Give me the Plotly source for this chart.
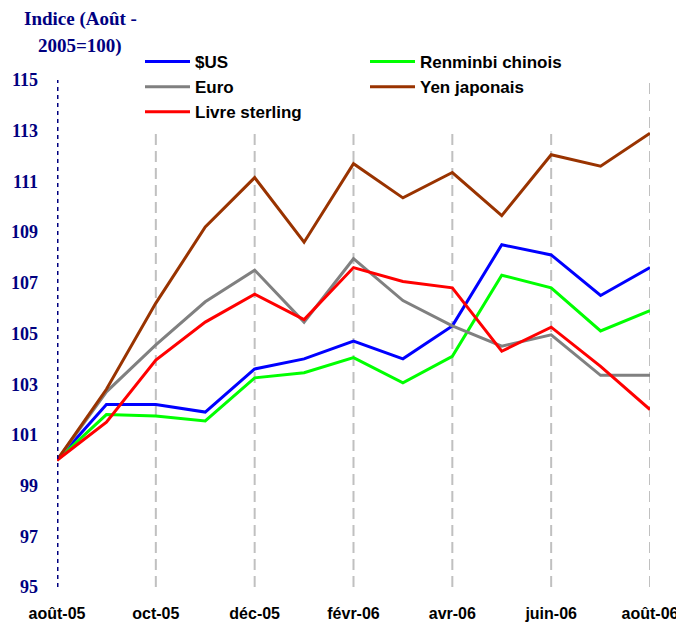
import plotly.graph_objects as go

months = ["août-05", "sept-05", "oct-05", "nov-05", "déc-05", "janv-06", "févr-06",
          "mars-06", "avr-06", "mai-06", "juin-06", "juil-06", "août-06"]
tick_months = months[::2]

usd = [100.0, 102.2, 102.2, 101.9, 103.6, 104.0, 104.7, 104.0, 105.3, 108.5, 108.1, 106.5, 107.6]
cny = [100.0, 101.8, 101.75, 101.55, 103.25, 103.45, 104.05, 103.05, 104.1, 107.3, 106.8, 105.1, 105.9]
eur = [100.0, 102.7, 104.55, 106.25, 107.5, 105.45, 107.95, 106.3, 105.3, 104.5, 104.95, 103.35, 103.35]
jpy = [100.0, 102.8, 106.2, 109.2, 111.15, 108.6, 111.7, 110.35, 111.35, 109.65, 112.05, 111.6, 112.9]
gbp = [100.0, 101.5, 103.95, 105.45, 106.55, 105.55, 107.6, 107.05, 106.8, 104.3, 105.25, 103.7, 102.0]

y_ticks = list(range(95, 116, 2))

series = [
    ("$US", usd, "#0000FF"),
    ("Renminbi chinois", cny, "#00FF00"),
    ("Euro", eur, "#808080"),
    ("Yen japonais", jpy, "#993300"),
    ("Livre sterling", gbp, "#FF0000"),
]

fig = go.Figure()
for name, vals, col in series:
    fig.add_trace(go.Scatter(x=months, y=vals, name=name, mode="lines",
                             line=dict(color=col, width=3)))

# dashed vertical grid lines at labelled months (except the first)
for m in tick_months[1:]:
    fig.add_shape(type="line", xref="x", yref="y", x0=m, x1=m, y0=95, y1=115,
                  line=dict(color="#C0C0C0", width=2, dash="11px,6px"), layer="below")
# dotted navy left axis
fig.add_shape(type="line", xref="x", yref="y", x0=months[0], x1=months[0], y0=95, y1=115,
              line=dict(color="#000080", width=3, dash="4px,4px"), layer="above")

PW, PH = 593, 507

fig.update_layout(
    width=676, height=616,
    margin=dict(l=49, r=34, t=72, b=37, autoexpand=False),
    paper_bgcolor="white", plot_bgcolor="white",
    showlegend=True,
    legend=dict(orientation="h", x=(140 - 57) / PW, y=(587 - 44) / PH,
                xanchor="left", yanchor="top",
                bgcolor="white", entrywidth=165, entrywidthmode="pixels",
                itemwidth=45, tracegroupgap=0,
                font=dict(family="Liberation Sans", size=17, color="black", weight="bold")),
    xaxis=dict(type="category", range=[0, 12], tickvals=tick_months, ticktext=tick_months,
               showgrid=False, zeroline=False, showline=False, ticks="",
               ticklabelstandoff=15, automargin=False,
               tickfont=dict(family="Liberation Sans", size=16, color="black", weight="bold")),
    yaxis=dict(range=[95, 115], tickvals=y_ticks, showgrid=False, zeroline=False,
               showline=False, ticks="", ticklabelstandoff=18, automargin=False,
               tickfont=dict(family="Liberation Serif", size=18, color="#000080", weight="bold")),
)

fig.add_annotation(text="Indice (Août -", xref="paper", yref="paper",
                   x=(80 - 57) / PW, y=(587 - 19) / PH, xanchor="center", yanchor="middle",
                   showarrow=False,
                   font=dict(family="Liberation Serif", size=19, color="#000080", weight="bold"))
fig.add_annotation(text="2005=100)", xref="paper", yref="paper",
                   x=(80 - 57) / PW, y=(587 - 46) / PH, xanchor="center", yanchor="middle",
                   showarrow=False,
                   font=dict(family="Liberation Serif", size=19, color="#000080", weight="bold"))

fig.write_html("out.html")
